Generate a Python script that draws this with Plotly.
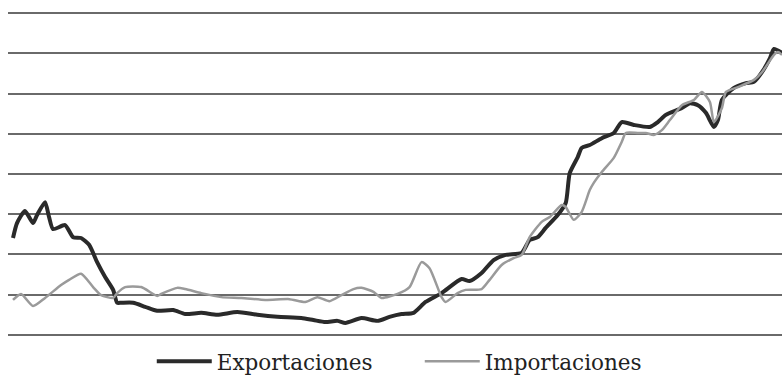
import plotly.graph_objects as go

# Monthly period index (0 = first month of the series)
exp_t = [0, 1, 3, 5, 6, 8, 9, 10, 13, 15, 17, 19, 21, 23, 25, 26, 27, 30, 33, 36,
         40, 43, 47, 51, 56, 61, 66, 72, 75, 78, 81, 83, 87, 91, 94, 97, 100, 103,
         107, 112, 114, 117, 120, 123, 127, 129, 131, 133, 136, 138, 139, 141, 142,
         144, 147, 150, 152, 155, 159, 161, 163, 167, 169, 171, 173, 175, 176, 177,
         180, 183, 185, 187, 189, 190, 192]
exportaciones = [2.41, 2.78, 3.08, 2.78, 2.98, 3.30, 2.93, 2.63, 2.73, 2.43, 2.41,
                 2.24, 1.81, 1.44, 1.12, 0.80, 0.80, 0.80, 0.70, 0.60, 0.62, 0.52,
                 0.55, 0.50, 0.57, 0.50, 0.45, 0.42, 0.37, 0.32, 0.35, 0.30, 0.42,
                 0.35, 0.45, 0.52, 0.55, 0.82, 1.04, 1.39, 1.34, 1.54, 1.86, 1.99,
                 2.04, 2.36, 2.43, 2.66, 2.98, 3.28, 4.02, 4.42, 4.65, 4.72, 4.89,
                 5.02, 5.29, 5.22, 5.17, 5.29, 5.47, 5.64, 5.76, 5.71, 5.52, 5.17,
                 5.34, 5.84, 6.14, 6.26, 6.29, 6.53, 6.88, 7.11, 7.01]

imp_t = [0, 2, 5, 8, 12, 14, 17, 20, 22, 25, 26, 28, 32, 36, 37, 41, 43, 47, 52,
         57, 63, 69, 73, 76, 79, 82, 85, 87, 90, 92, 96, 99, 102, 104, 107, 108,
         111, 113, 117, 119, 122, 125, 127, 129, 132, 134, 137, 138, 140, 142, 144,
         145, 147, 150, 152, 153, 156, 158, 160, 162, 164, 167, 170, 172, 174, 175,
         177, 178, 181, 185, 187, 190, 191, 192]
importaciones = [0.87, 1.02, 0.72, 0.92, 1.24, 1.37, 1.52, 1.19, 0.99, 0.92, 1.04,
                 1.19, 1.19, 0.97, 1.02, 1.17, 1.14, 1.04, 0.94, 0.92, 0.87, 0.89,
                 0.82, 0.94, 0.84, 0.99, 1.14, 1.17, 1.07, 0.92, 1.02, 1.19, 1.81,
                 1.66, 0.94, 0.82, 1.04, 1.12, 1.14, 1.37, 1.74, 1.91, 1.99, 2.43,
                 2.81, 2.93, 3.23, 3.18, 2.86, 3.06, 3.60, 3.78, 4.05, 4.40, 4.80,
                 5.02, 5.02, 5.02, 4.97, 5.09, 5.34, 5.71, 5.84, 6.04, 5.79, 5.29,
                 5.64, 6.04, 6.16, 6.34, 6.53, 6.96, 7.03, 6.96]

fig = go.Figure()
fig.add_trace(go.Scatter(
    x=exp_t, y=exportaciones, name="Exportaciones", mode="lines",
    line=dict(color="#2a2a2a", width=4, shape="spline", smoothing=0.6),
))
fig.add_trace(go.Scatter(
    x=imp_t, y=importaciones, name="Importaciones", mode="lines",
    line=dict(color="#9a9a9a", width=2.5, shape="spline", smoothing=0.6),
))

fig.update_layout(
    width=782, height=382,
    margin=dict(l=8, r=0, t=5, b=39, autoexpand=False),
    paper_bgcolor="white", plot_bgcolor="white",
    showlegend=True,
    legend=dict(
        orientation="h", x=0.532, xanchor="center", y=-0.054, yanchor="middle",
        font=dict(family="DejaVu Serif", size=21.5, color="#222222"),
        itemwidth=55, entrywidth=198, entrywidthmode="pixels",
        bgcolor="rgba(0,0,0,0)",
    ),
    xaxis=dict(range=[-1.25, 192], showgrid=False, zeroline=False,
               showticklabels=False, showline=False, ticks=""),
    yaxis=dict(range=[-0.2, 8.2], dtick=1, tick0=0, showgrid=True,
               gridcolor="#6a6a6a", gridwidth=1.6, zeroline=False,
               showticklabels=False, showline=False, ticks=""),
)

fig.write_html("out.html")
